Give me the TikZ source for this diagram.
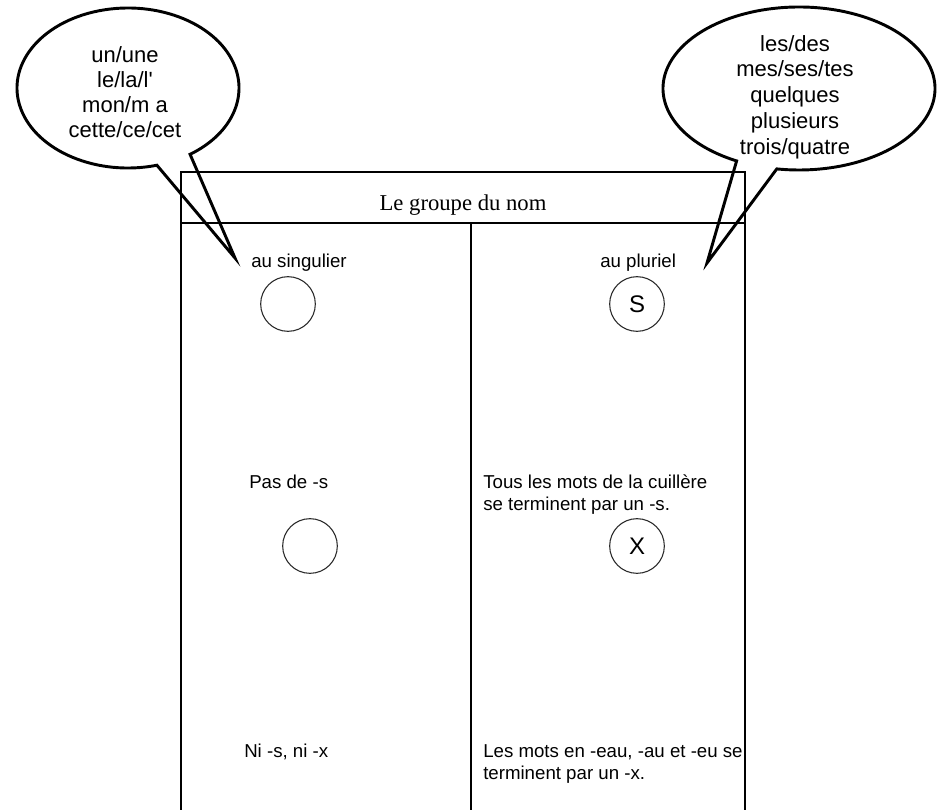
\documentclass[tikz,border=0pt]{standalone}
\usepackage{fontspec}
\setmainfont{Liberation Sans}
\newfontfamily\titlefont{Liberation Serif}
\usepackage{tikz}

\tikzset{
  bubble/.style={line width=2.2pt},
  ring/.style={circle, draw={rgb, 255:red, 40; green, 40; blue, 40}, line width=0.8pt, minimum size=41pt, inner sep=0pt, font=\fontsize{18}{18}\selectfont},
  lbl/.style={anchor=base west, inner sep=0.75pt, font=\fontsize{14}{16.5}\selectfont, align=left},
  bubbletext/.style={inner sep=0.75pt, font=\fontsize{16.5}{18.7}\selectfont, align=center}
}

\begin{document}
\begin{tikzpicture}[x=0.75pt,y=0.75pt,yscale=-1,xscale=1]
\useasboundingbox (0,0) rectangle (943,810);
\clip (0,0) rectangle (943,810);

%Shape: Rectangle [id:dp1] 
\draw  [line width=1.1pt] (181,812) -- (181,172) -- (745,172) -- (745,812) ;
%Straight Lines [id:da1] 
\draw  [line width=1.1pt]  (181,223) -- (745,223) ;
%Straight Lines [id:da2] 
\draw  [line width=1.1pt]  (471,223) -- (471,812) ;

%Shape: Callout [id:dp2] 
\coordinate (tipSing) at (235,258);
\draw  [bubble] (128,88) ++(74.9:111 and 80) arc [start angle=74.9, end angle=416, x radius=111, y radius=80] -- (tipSing) -- cycle ;
%Shape: Callout [id:dp3] 
\coordinate (tipPlur) at (707,263);
\draw  [bubble] (799,88.5) ++(117.3:136 and 81.5) arc [start angle=117.3, end angle=459.4, x radius=136, y radius=81.5] -- (tipPlur) -- cycle ;

%Shape: Circle [id:dp4] 
\node (ringSing) [ring] at (288,304) {};
%Shape: Circle [id:dp5] 
\node (ringPlur) [ring] at (637,304) {S};
%Shape: Circle [id:dp6] 
\node (ringPas) [ring] at (310,546) {};
%Shape: Circle [id:dp7] 
\node (ringTous) [ring] at (637,546) {X};

% Text Node
\draw (125,92) node (motsSing) [bubbletext] {un/une\\le/la/l\textquotesingle\\mon/m a\\cette/ce/cet};
% Text Node
\draw (795,97) node (motsPlur) [bubbletext, font=\fontsize{16.5}{19.3}\selectfont] {les/des\\mes/ses/tes\\quelques\\plusieurs\\trois/quatre};
% Text Node
\draw (463,210) node (titre) [anchor=base, inner sep=0.75pt, font=\titlefont\fontsize{17}{17}\selectfont] {Le groupe du nom};
% Text Node
\draw (250,267) node (sing) [lbl] {au singulier};
% Text Node
\draw (599,267) node (plur) [lbl] {au pluriel};
% Text Node
\draw (248,488) node (pasS) [lbl] {Pas de -s};
% Text Node
\draw (482,510) node (tousS) [lbl] {Tous les mots de la cuillère\\se terminent par un -s.};
% Text Node
\draw (243,757) node (niSX) [lbl] {Ni -s, ni -x};
% Text Node
\draw (482,779) node (eauX) [lbl] {Les mots en -eau, -au et -eu se\\terminent par un -x.};

\end{tikzpicture}
\end{document}
